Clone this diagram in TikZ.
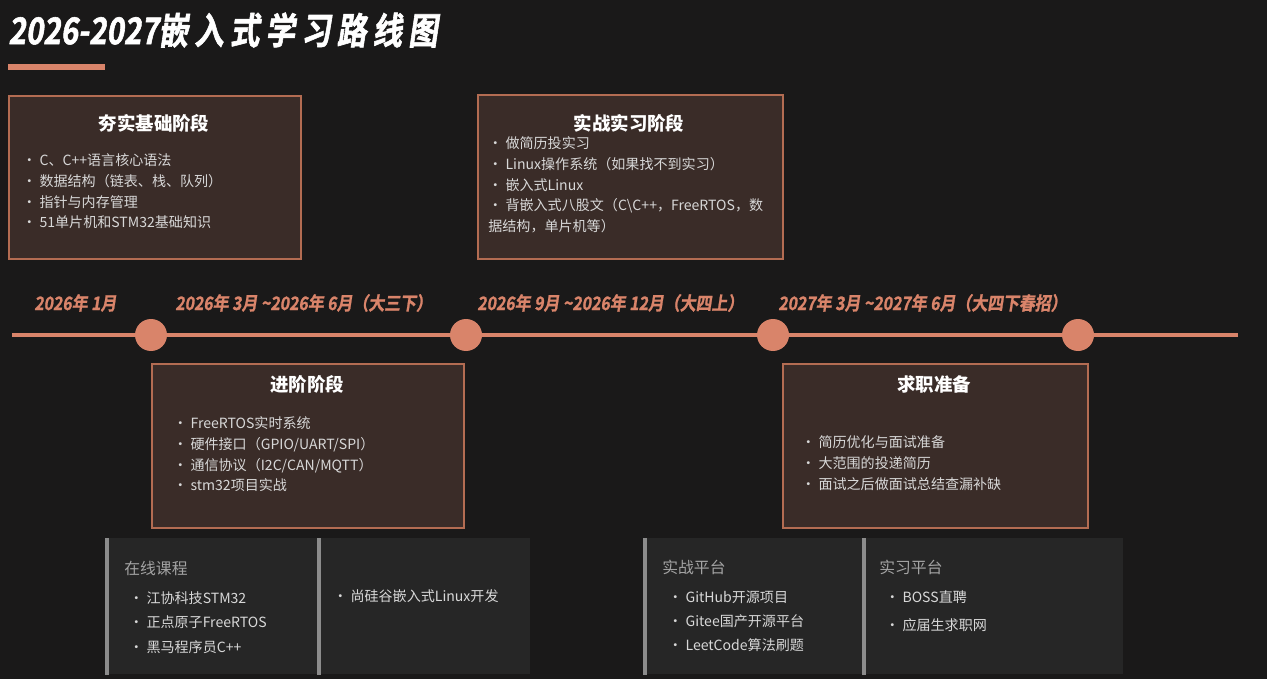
\documentclass[tikz,border=0pt]{standalone}
\usepackage{fontspec}
\setmainfont{Noto Sans CJK SC}
\newfontfamily\titlefont[FakeSlant=0.15,FakeBold=1.5,FakeStretch=0.8]{Noto Sans CJK SC Bold}
\newfontfamily\datefont[FakeSlant=0.15,FakeBold=1.2,FakeStretch=0.86]{Noto Sans CJK SC Bold}
\usetikzlibrary{positioning}
\definecolor{bgcol}{HTML}{1A1919}
\definecolor{boxfill}{HTML}{3A2C28}
\definecolor{boxline}{HTML}{B36C52}
\definecolor{accent}{HTML}{D9846A}
\definecolor{panelfill}{HTML}{262626}
\definecolor{barcol}{HTML}{8C8C8C}
\definecolor{itemcol}{HTML}{D8D8D8}
\begin{document}
\begin{tikzpicture}[
        x=0.02cm, y=-0.02cm,
        stagebox/.style={draw=boxline, line width=1pt, fill=boxfill, anchor=north west, inner sep=0pt},
        stagetitle/.style={text=white, font=\fontsize{10.5}{12}\selectfont\bfseries},
        itemlist/.style={text=itemcol, anchor=north west, align=left, inner sep=0pt, font=\fontsize{8}{11.9}\selectfont},
        panel/.style={fill=panelfill, anchor=north west, inner sep=0pt, minimum height=2.72cm},
        panellist/.style={text=itemcol, anchor=north west, align=left, inner sep=0pt, font=\fontsize{8}{13.9}\selectfont},
        paneltitle/.style={text=barcol!80!white, anchor=west, inner sep=0pt, font=\fontsize{9}{11}\selectfont},
        datelabel/.style={text=accent, anchor=west, inner sep=0pt, font=\datefont\fontsize{10.5}{13}\selectfont},
        dot/.style={circle, fill=accent, minimum size=0.64cm, inner sep=0pt}
    ]
        \fill[bgcol] (0,0) rectangle (1267,679);

        % Title
        \node[anchor=west, text=white, inner sep=0pt, font=\titlefont\fontsize{21}{24}\selectfont] (title) at (8,30) {2026-2027嵌\,入\,式\,学\,习\,路\,线\,图};
        \draw[accent, line width=3pt] (8,67) -- (105,67);

        % Upper stages
        \node[stagebox, minimum width=5.84cm, minimum height=3.26cm] (base) at (8,95) {};
        \node[stagetitle] (basetitle) at (154,123) {夯实基础阶段};
        \node[itemlist] (baselist) at (22,153) {•~C、C++语言核心语法\\•~数据结构（链表、栈、队列）\\•~指针与内存管理\\•~51单片机和STM32基础知识};

        \node[stagebox, minimum width=6.1cm, minimum height=3.28cm] (intern) at (477,94) {};
        \node[stagetitle] (interntitle) at (629,123) {实战实习阶段};
        \node[itemlist] (internlist) at (488,136) {•~做简历投实习\\•~Linux操作系统（如果找不到实习）\\•~嵌入式Linux\\•~背嵌入式八股文（C\textbackslash C++，FreeRTOS，数\\据结构，单片机等）};

        % Timeline
        \draw[accent, line width=2.5pt] (12,335) coordinate (tl) -- (1238,335) coordinate (tr);
        \node[dot] (d1) at (151,335) {};
        \node[dot] (d2) at (466,335) {};
        \node[dot] (d3) at (773,335) {};
        \node[dot] (d4) at (1078,335) {};
        \node[datelabel] (t1) at (34,303) {2026年 1月};
        \node[datelabel] (t2) at (175,303) {2026年 3月 \textasciitilde2026年 6月（大三下）};
        \node[datelabel] (t3) at (477,303) {2026年 9月 \textasciitilde2026年 12月（大四上）};
        \node[datelabel] (t4) at (778,303) {2027年 3月 \textasciitilde2027年 6月（大四下春招）};

        % Lower stages
        \node[stagebox, minimum width=6.24cm, minimum height=3.28cm] (adv) at (151,363) {};
        \node[stagetitle] (advtitle) at (307,384) {进阶阶段};
        \node[itemlist] (advlist) at (173,416) {•~FreeRTOS实时系统\\•~硬件接口（GPIO/UART/SPI）\\•~通信协议（I2C/CAN/MQTT）\\•~stm32项目实战};

        \node[stagebox, minimum width=6.1cm, minimum height=3.28cm] (job) at (782,363) {};
        \node[stagetitle] (jobtitle) at (934,384) {求职准备};
        \node[itemlist] (joblist) at (801,435) {•~简历优化与面试准备\\•~大范围的投递简历\\•~面试之后做面试总结查漏补缺};

        % Resource panels
        \node[panel, minimum width=4.24cm] (p1) at (105,538) {};
        \node[panel, minimum width=4.26cm] (p2) at (317,538) {};
        \node[panel, minimum width=4.38cm] (p3) at (643,538) {};
        \node[panel, minimum width=5.22cm] (p4) at (862,538) {};
        \foreach \p in {p1,p2,p3,p4}
            \fill[barcol] (\p.north west) rectangle ([xshift=0.08cm]\p.south west);

        \node[paneltitle] (p1title) at (124,568) {在线课程};
        \node[panellist] (p1list) at (129,591) {•~江协科技STM32\\•~正点原子FreeRTOS\\•~黑马程序员C++};
        \node[panellist] (p2list) at (333,589) {•~尚硅谷嵌入式Linux开发};
        \node[paneltitle] (p3title) at (662,567) {实战平台};
        \node[panellist] (p3list) at (668,590) {•~GitHub开源项目\\•~Gitee国产开源平台\\•~LeetCode算法刷题};
        \node[paneltitle] (p4title) at (879,567) {实习平台};
        \node[panellist, font=\fontsize{8}{15.9}\selectfont] (p4list) at (885,590) {•~BOSS直聘\\•~应届生求职网};
    \end{tikzpicture}
\end{document}
